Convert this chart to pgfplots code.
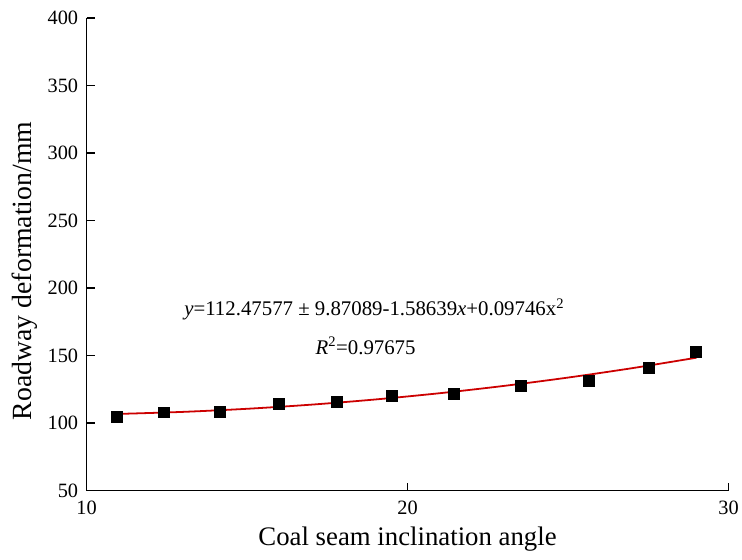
\documentclass[border=0pt]{standalone}
\usepackage{fontspec}
\setmainfont{Liberation Serif}
\usepackage{pgfplots}
\pgfplotsset{compat=1.18}

\begin{document}
\begin{tikzpicture}[x=1bp,y=1bp]
  % fixed page frame, same proportions as the reference
  \path (-87,-69) rectangle (655,493);
  \begin{axis}[
      at={(0,0)}, anchor=south west,
      scale only axis, width=645bp, height=475bp,
      xmin=10, xmax=30, ymin=50, ymax=400,
      axis lines=left,
      axis line style={-, line width=1.5pt, black},
      xtick={10,20,30},
      ytick={50,100,...,400},
      tick align=inside,
      major tick length=8bp,
      tick style={line width=1.3pt, black},
      ticklabel style={font=\fontsize{20.5}{24}\selectfont},
      /pgf/number format/assume math mode=true,
      xticklabel style={yshift=-7bp},
      yticklabel style={xshift=-5bp},
      xlabel={Coal seam inclination angle},
      xlabel style={font=\fontsize{27}{30}\selectfont,
        at={(axis description cs:0.5,0)}, anchor=base, yshift=-55bp},
      ylabel={Roadway deformation/mm},
      ylabel style={font=\fontsize{28}{30}\selectfont,
        at={(axis description cs:-0.096,0.465)}, anchor=center},
      clip=false,
    ]
    % fitted curve (quadratic fit shown in the chart)
    \addplot[smooth, line width=1.8pt, red!80!black] coordinates {
      (11,106.82) (13,108.32) (15,110.61) (17,113.67) (19,117.52)
      (21,122.14) (23,127.54) (25,133.73) (27,140.69) (29,148.43)
    };
    % measured points
    \addplot[only marks, mark=square*, mark size=5.5bp, black] coordinates {
      (10.93,105.1) (12.39,108.1) (14.16,108.8) (15.98,114.2)
      (17.78,116.2) (19.52,120.6) (21.44,122.1) (23.52,128.0)
      (25.63,131.6) (27.52,141.2) (28.98,152.9)
    };
    \node[anchor=base west, inner sep=0pt, font=\fontsize{21}{24}\selectfont]
      at (axis cs:13.04,179.7)
      {\textit{y}=112.47577 ± 9.87089-1.58639\textit{x}+0.09746x\textsuperscript{2}};
    \node[anchor=base west, inner sep=0pt, font=\fontsize{21}{24}\selectfont]
      at (axis cs:17.13,150.96)
      {\textit{R}\textsuperscript{2}=0.97675};
  \end{axis}
\end{tikzpicture}
\end{document}
